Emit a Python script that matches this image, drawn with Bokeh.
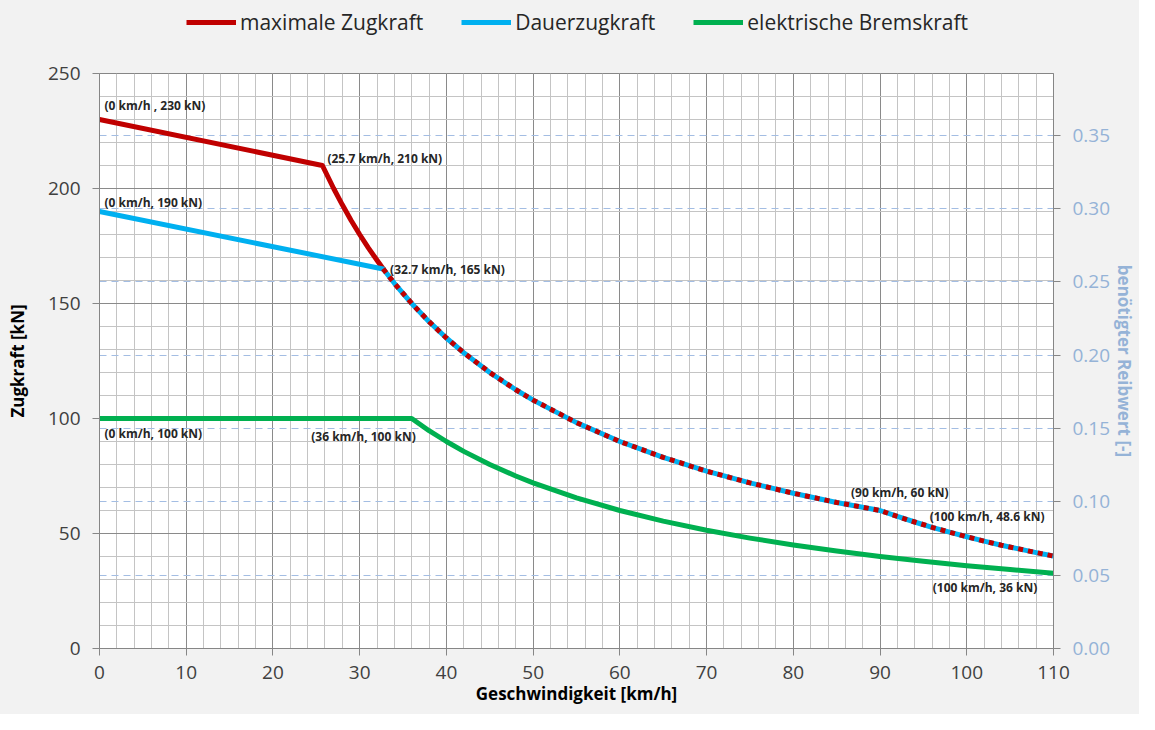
from bokeh.plotting import figure
from bokeh.layouts import column
from bokeh.models import (Range1d, LinearAxis, FixedTicker, Grid,
                          Legend, LegendItem, Label, NumeralTickFormatter)
from bokeh.embed import file_html
from bokeh.resources import INLINE

# ---- data ----
v_max = [0, 25.7, 27, 28, 29, 30, 31, 32, 32.7]
f_max = [230, 210, 200, 192.9, 186.2, 180, 174.2, 168.8, 165.1]

v_dauer = [0, 32.7]
f_dauer = [190, 165]

v_common = [32.7, 34, 36, 38, 40, 42, 45, 48, 50, 55, 60, 65, 70, 75, 80, 85, 90,
            92, 94, 96, 98, 100, 102, 104, 106, 108, 110]
f_common = [165.1, 158.8, 150, 142.1, 135, 128.6, 120, 112.5, 108, 98.2, 90, 83.1, 77.1,
            72, 67.5, 63.5, 60, 57.4, 55.0, 52.7, 50.6, 48.6, 46.7, 44.9, 43.3, 41.7, 40.2]

v_brems = [0, 36, 38, 40, 42, 45, 48, 50, 55, 60, 65, 70, 75, 80, 85, 90, 95, 100, 105, 110]
f_brems = [100, 100, 94.7, 90, 85.7, 80, 75, 72, 65.5, 60, 55.4, 51.4, 48, 45, 42.4, 40,
           37.9, 36, 34.3, 32.7]

series_names = ["maximale Zugkraft", "Dauerzugkraft", "elektrische Bremskraft"]

x_ticks = list(range(0, 111, 10))
y_ticks = list(range(0, 251, 50))
mu_ticks = [0.0, 0.05, 0.10, 0.15, 0.20, 0.25, 0.30, 0.35]
mu_max = 0.392

ann_x = [0, 25.7, 0, 32.7, 0, 36, 90, 100, 100]
ann_y = [230, 210, 190, 165, 100, 100, 60, 48.6, 36]
ann_text = ["(0 km/h , 230 kN)", "(25.7 km/h, 210 kN)", "(0 km/h, 190 kN)",
            "(32.7 km/h, 165 kN)", "(0 km/h, 100 kN)", "(36 km/h, 100 kN)",
            "(90 km/h, 60 kN)", "(100 km/h, 48.6 kN)", "(100 km/h, 36 kN)"]

# ---- style ----
RED = "#c00000"
BLUE = "#00b0f0"
GREEN = "#00b050"
FONT = "Open Sans"
TXT = "#404040"
MUC = "#95b3d7"
BG = "#f2f2f2"

# ---- legend strip (separate figure above the chart) ----
pl = figure(width=1139, height=58, x_range=Range1d(500, 501), y_range=Range1d(500, 501),
            output_backend="svg", toolbar_location=None,
            background_fill_color=BG, border_fill_color=BG,
            min_border_left=0, min_border_right=0, min_border_top=0, min_border_bottom=0)
pl.axis.visible = False
pl.grid.visible = False
pl.outline_line_color = None
l_max = pl.line(v_max, f_max, line_color=RED, line_width=5)
l_dauer = pl.line(v_dauer, f_dauer, line_color=BLUE, line_width=5)
l_brems = pl.line(v_brems, f_brems, line_color=GREEN, line_width=5)
legend = Legend(items=[LegendItem(label=series_names[0], renderers=[l_max]),
                       LegendItem(label=series_names[1], renderers=[l_dauer]),
                       LegendItem(label=series_names[2], renderers=[l_brems])],
                orientation="horizontal", location=(85, 20),
                label_text_font=FONT, label_text_font_size="21px", label_text_color="#262626",
                glyph_width=50, glyph_height=20, spacing=38, label_standoff=4,
                padding=2, margin=0, background_fill_alpha=0, border_line_alpha=0)
pl.add_layout(legend, "center")

# ---- main chart ----
p = figure(width=1139, height=656, x_range=Range1d(0, 110), y_range=Range1d(0, 250),
           output_backend="svg", toolbar_location=None,
           background_fill_color="white", border_fill_color=BG,
           min_border_left=99, min_border_right=83, min_border_top=15, min_border_bottom=66)
p.outline_line_color = "#868686"
p.extra_y_ranges = {"mu": Range1d(0, mu_max)}

p.xaxis.ticker = FixedTicker(ticks=x_ticks, minor_ticks=list(range(0, 111, 2)))
p.yaxis.ticker = FixedTicker(ticks=y_ticks, minor_ticks=list(range(0, 251, 10)))
for ax in (p.xaxis[0], p.yaxis[0]):
    ax.axis_line_color = "#868686"
    ax.major_tick_line_color = "#868686"
    ax.major_tick_out = 7
    ax.major_tick_in = 0
    ax.minor_tick_out = 0
    ax.minor_tick_in = 0
    ax.major_label_text_font = FONT
    ax.major_label_text_font_size = "19px"
    ax.major_label_text_color = TXT
    ax.axis_label_text_font = FONT
    ax.axis_label_text_font_style = "bold"
    ax.axis_label_text_font_size = "17px"
    ax.axis_label_text_color = "#000000"
p.xaxis.axis_label = "Geschwindigkeit [km/h]"
p.yaxis.axis_label = "Zugkraft [kN]"
p.xaxis.major_label_standoff = 10
p.xaxis.axis_label_standoff = 0
p.yaxis.major_label_standoff = 12
p.yaxis.axis_label_standoff = 16

mu_axis = LinearAxis(y_range_name="mu", ticker=FixedTicker(ticks=mu_ticks),
                     formatter=NumeralTickFormatter(format="0.00"))
mu_axis.axis_line_color = "#868686"
mu_axis.major_tick_line_color = "#868686"
mu_axis.major_tick_out = 7
mu_axis.major_tick_in = 0
mu_axis.minor_tick_out = 0
mu_axis.minor_tick_in = 0
mu_axis.major_label_text_font = FONT
mu_axis.major_label_text_font_size = "19px"
mu_axis.major_label_text_color = MUC
mu_axis.major_label_standoff = 12
mu_axis.axis_label = "benötigter Reibwert [-]"
mu_axis.axis_label_text_font = FONT
mu_axis.axis_label_text_font_style = "bold"
mu_axis.axis_label_text_font_size = "17px"
mu_axis.axis_label_text_color = MUC
mu_axis.axis_label_standoff = 0
p.add_layout(mu_axis, "right")

p.xgrid.grid_line_color = "#8a8a8a"
p.xgrid.minor_grid_line_color = "#c4c4c4"
p.ygrid.grid_line_color = "#8a8a8a"
p.ygrid.minor_grid_line_color = "#c4c4c4"
mu_grid = Grid(dimension=1, ticker=mu_axis.ticker, y_range_name="mu",
               grid_line_color="#a3bde3", grid_line_dash="7 5", grid_line_width=1)
p.add_layout(mu_grid)

p.line(v_max, f_max, line_color=RED, line_width=5, line_join="round", line_cap="round")
p.line(v_dauer, f_dauer, line_color=BLUE, line_width=5, line_join="round", line_cap="round")
p.line(v_common, f_common, line_color=BLUE, line_width=5, line_join="round")
p.line(v_common, f_common, line_color=RED, line_width=5, line_dash="5 5", line_join="round")
p.line(v_brems, f_brems, line_color=GREEN, line_width=5, line_join="round", line_cap="round")

ann_dx = [5, 5, 5, 7, 5, 4, -29, -37, -34]
ann_dy = [14, 7, 9, 0, -15, -18, 18, 20, -22]
ann_align = ["left", "left", "left", "left", "left", "right", "left", "left", "left"]
for x, y, t, dx, dy, al in zip(ann_x, ann_y, ann_text, ann_dx, ann_dy, ann_align):
    p.add_layout(Label(x=x, y=y, text=t, x_offset=dx, y_offset=dy, text_align=al,
                       text_baseline="middle", text_font=FONT, text_font_style="bold",
                       text_font_size="12px", text_color="#262626"))

layout = column(pl, p, spacing=0, styles={"background-color": BG})
open("out.html", "w").write(file_html(layout, INLINE))
